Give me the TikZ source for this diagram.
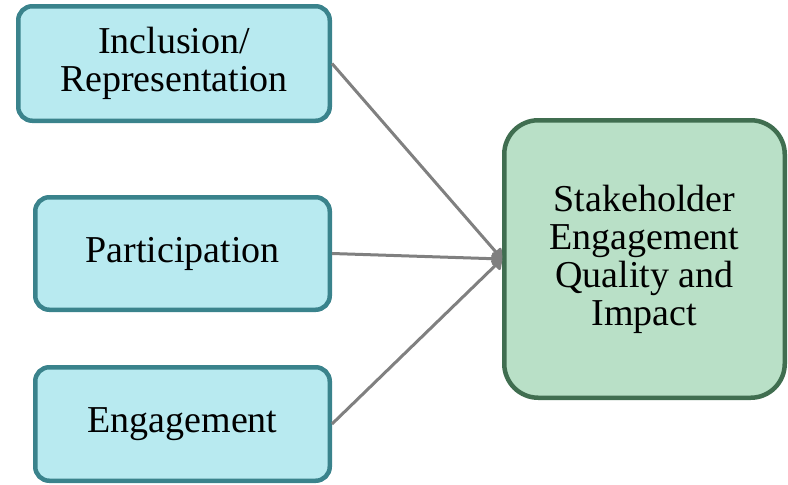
\documentclass[tikz,border=0pt]{standalone}
\usepackage{fontspec}
\setmainfont{Liberation Serif}
\usetikzlibrary{arrows.meta}

\definecolor{inborder}{RGB}{58,131,140}
\definecolor{infill}{RGB}{184,234,240}
\definecolor{outborder}{RGB}{64,110,80}
\definecolor{outfill}{RGB}{185,224,199}
\definecolor{linkgray}{RGB}{128,128,128}

\tikzset{
  inbox/.style={draw=inborder, fill=infill, line width=4.5pt, rounded corners=14pt,
    align=center, inner sep=0pt, font=\fontsize{38}{38}\selectfont},
  outbox/.style={draw=outborder, fill=outfill, line width=4.5pt, rounded corners=34pt,
    align=center, inner sep=0pt, font=\fontsize{38}{38}\selectfont},
  link/.style={draw=linkgray, line width=3pt, -{Triangle[round,length=11pt,width=15pt]}}
}

\begin{document}
\begin{tikzpicture}[x=1pt,y=1pt,yscale=-1]
\useasboundingbox (0,0) rectangle (788,485);

%Shape: Rounded Rect [inputs]
\node [inbox, minimum width=311.5pt, minimum height=114.5pt] (incl) at (174,63.5) {Inclusion/\\Representation};
\node [inbox, minimum width=294.5pt, minimum height=112.5pt] (part) at (182.5,253.5) {Participation};
\node [inbox, minimum width=294.5pt, minimum height=113.5pt] (eng) at (182.5,424) {Engagement};

%Shape: Rounded Rect [outcome]
\node [outbox, minimum width=280.5pt, minimum height=277.5pt] (qual) at (644.5,259) {Stakeholder\\Engagement\\Quality and\\Impact};

%Straight Lines
\draw [link] (incl.east) -- (qual.west);
\draw [link] (part.east) -- (qual.west);
\draw [link] (eng.east) -- (qual.west);

\end{tikzpicture}
\end{document}
